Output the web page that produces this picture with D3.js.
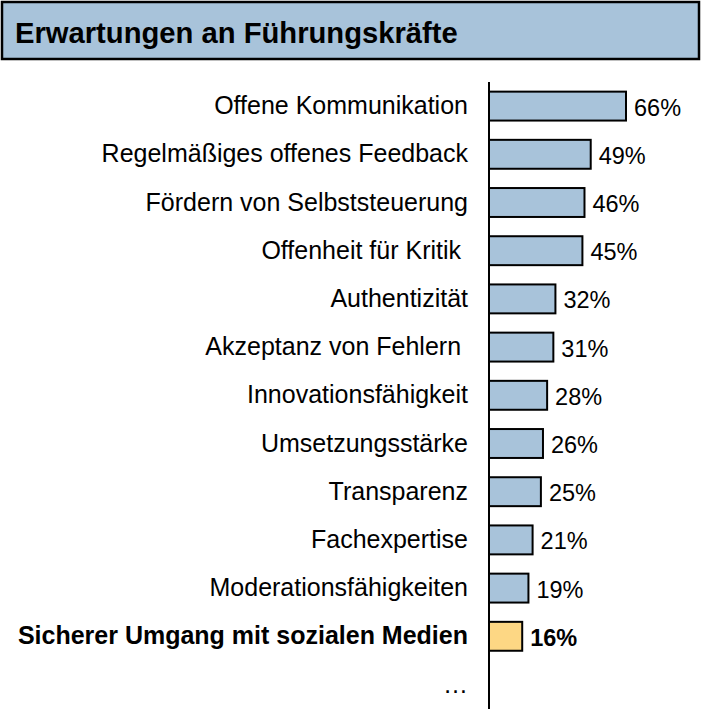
<!DOCTYPE html>
<html><head><meta charset="utf-8">
<script src="https://cdn.jsdelivr.net/npm/d3@7"></script>
<style>body{margin:0;background:#fff}svg{display:block}text{font-family:"Liberation Sans",Arial,sans-serif;white-space:pre}</style>
</head><body><div id="c"></div>
<script>
const title = "Erwartungen an Führungskräfte";
const categories = ["Offene Kommunikation","Regelmäßiges offenes Feedback","Fördern von Selbststeuerung","Offenheit für Kritik ","Authentizität","Akzeptanz von Fehlern ","Innovationsfähigkeit","Umsetzungsstärke","Transparenz","Fachexpertise","Moderationsfähigkeiten","Sicherer Umgang mit sozialen Medien","…"];
const values = [66,49,46,45,32,31,28,26,25,21,19,16,null];
const highlighted = ["Sicherer Umgang mit sozialen Medien"];

const W=701,H=727;
const svg=d3.select("#c").append("svg").attr("width",W).attr("height",H);
svg.append("rect").attr("x",2).attr("y",2).attr("width",697).attr("height",57)
  .attr("fill","#a8c3da").attr("stroke","#000").attr("stroke-width",2.5);
svg.append("text").attr("x",15).attr("y",43).attr("font-size",29.2).attr("font-weight","bold").text(title);

const x0=489;
const x=d3.scaleLinear().domain([0,66]).range([x0,626]);
const y=d3.scaleBand().domain(categories).range([82,708.6]).paddingInner(0.4).paddingOuter(0.2);

const data=categories.map((c,i)=>({c,v:values[i],hl:highlighted.includes(c)}));
const bars=data.filter(d=>d.v!=null);
svg.selectAll("rect.bar").data(bars).join("rect").attr("class","bar")
  .attr("x",x(0)).attr("y",d=>y(d.c)).attr("width",d=>x(d.v)-x(0)).attr("height",y.bandwidth())
  .attr("fill",d=>d.hl?"#fdd784":"#a8c3da").attr("stroke","#000").attr("stroke-width",2);
svg.selectAll("text.val").data(bars).join("text").attr("class","val")
  .attr("x",d=>x(d.v)+8).attr("y",d=>y(d.c)+y.bandwidth()/2+9.5)
  .attr("font-size",23.5).attr("font-weight",d=>d.hl?"bold":"normal").text(d=>d.v+"%");
svg.selectAll("text.lab").data(data).join("text").attr("class","lab")
  .attr("x",468).attr("y",d=>y(d.c)+y.bandwidth()/2+8).attr("text-anchor","end")
  .attr("font-size",25).attr("font-weight",d=>d.hl?"bold":"normal").text(d=>d.c);
svg.append("line").attr("x1",x0).attr("x2",x0).attr("y1",82).attr("y2",709).attr("stroke","#000").attr("stroke-width",2);
</script></body></html>
